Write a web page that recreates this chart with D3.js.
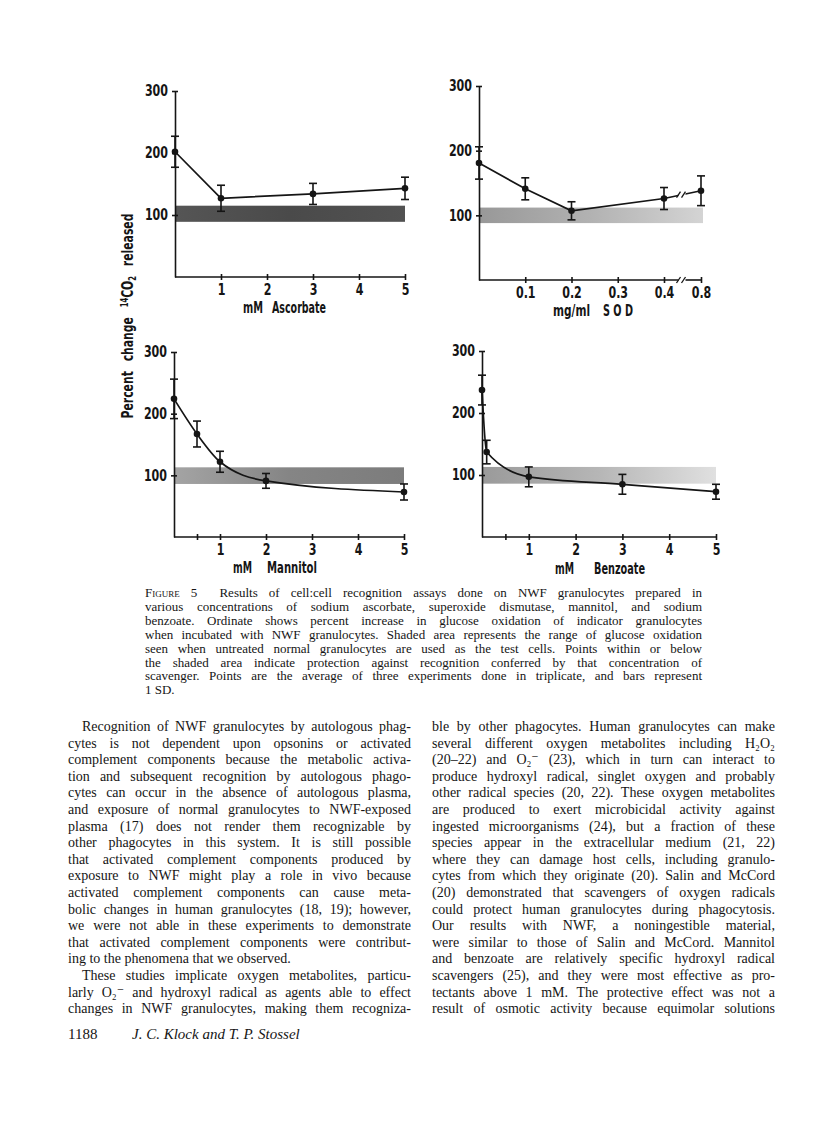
<!DOCTYPE html>
<html><head><meta charset="utf-8">
<script src="https://cdn.jsdelivr.net/npm/d3@7"></script>
<style>body{margin:0;background:#fff}</style>
</head><body><svg id="page" width="816" height="1127"></svg>
<script>
// ---------------- DATA ----------------
const yTicks = [100, 200, 300];

const ascConc  = [0, 1, 3, 5];
const ascValue = [202, 127, 134, 143];
const ascSD    = [25, 21, 17, 18];
const ascTicks = [1, 2, 3, 4, 5];

const sodConc  = [0, 0.1, 0.2, 0.4, 0.8];
const sodValue = [181, 141, 107, 126, 138];
const sodSD    = [25, 17, 14, 17, 23];
const sodTicks = [0.1, 0.2, 0.3, 0.4, 0.8];

const manConc  = [0, 0.5, 1, 2, 5];
const manValue = [224, 167, 122, 91, 73];
const manSD    = [32, 21, 17, 12, 13];
const manTicks = [0.5, 1, 2, 3, 4, 5];

const benConc  = [0, 0.1, 1, 3, 5];
const benValue = [237, 137, 97, 85, 73];
const benSD    = [24, 19, 16, 16, 12];
const benTicks = [0.5, 1, 2, 3, 4, 5];

const normalRange = [[89, 115], [88, 112], [86, 113], [86, 113]];

const xTitles = [["mM", "Ascorbate"], ["mg/ml", "S O D"], ["mM", "Mannitol"], ["mM", "Benzoate"]];
const yTitle = ["Percent change ", "14", "CO", "2", " released"];

const captionLines = [
  "Figure 5  Results of cell:cell recognition assays done on NWF granulocytes prepared in",
  "various concentrations of sodium ascorbate, superoxide dismutase, mannitol, and sodium",
  "benzoate. Ordinate shows percent increase in glucose oxidation of indicator granulocytes",
  "when incubated with NWF granulocytes. Shaded area represents the range of glucose oxidation",
  "seen when untreated normal granulocytes are used as the test cells. Points within or below",
  "the shaded area indicate protection against recognition conferred by that concentration of",
  "scavenger. Points are the average of three experiments done in triplicate, and bars represent",
  "1 SD."
];
const leftLines = [
  "Recognition of NWF granulocytes by autologous phag-",
  "cytes is not dependent upon opsonins or activated",
  "complement components because the metabolic activa-",
  "tion and subsequent recognition by autologous phago-",
  "cytes can occur in the absence of autologous plasma,",
  "and exposure of normal granulocytes to NWF-exposed",
  "plasma (17) does not render them recognizable by",
  "other phagocytes in this system. It is still possible",
  "that activated complement components produced by",
  "exposure to NWF might play a role in vivo because",
  "activated complement components can cause meta-",
  "bolic changes in human granulocytes (18, 19); however,",
  "we were not able in these experiments to demonstrate",
  "that activated complement components were contribut-",
  "ing to the phenomena that we observed.",
  "These studies implicate oxygen metabolites, particu-",
  "larly O\u2082\u207B and hydroxyl radical as agents able to effect",
  "changes in NWF granulocytes, making them recogniza-"
];
const rightLines = [
  "ble by other phagocytes. Human granulocytes can make",
  "several different oxygen metabolites including H\u2082O\u2082",
  "(20\u201322) and O\u2082\u207B (23), which in turn can interact to",
  "produce hydroxyl radical, singlet oxygen and probably",
  "other radical species (20, 22). These oxygen metabolites",
  "are produced to exert microbicidal activity against",
  "ingested microorganisms (24), but a fraction of these",
  "species appear in the extracellular medium (21, 22)",
  "where they can damage host cells, including granulo-",
  "cytes from which they originate (20). Salin and McCord",
  "(20) demonstrated that scavengers of oxygen radicals",
  "could protect human granulocytes during phagocytosis.",
  "Our results with NWF, a noningestible material,",
  "were similar to those of Salin and McCord. Mannitol",
  "and benzoate are relatively specific hydroxyl radical",
  "scavengers (25), and they were most effective as pro-",
  "tectants above 1 mM. The protective effect was not a",
  "result of osmotic activity because equimolar solutions"
];
const pageNumber = "1188";
const authors = "J. C. Klock and T. P. Stossel";

// ---------------- LAYOUT ----------------
const svg = d3.select("#page");
svg.append("rect").attr("width", 816).attr("height", 1127).attr("fill", "#fff");
const defs = svg.append("defs");
const chartFont = "'Liberation Sans Narrow','Arial Narrow','DejaVu Sans Condensed','DejaVu Sans',sans-serif";
const serif = "'Liberation Serif','DejaVu Serif',serif";
const ink = "#151515";

const panels = [
  { conc: ascConc, value: ascValue, sd: ascSD, ticks: ascTicks, band: normalRange[0],
    xDomain: [0, 5], xRange: [175, 405], y0: 277, y300: 91, curve: d3.curveLinear,
    bandStops: ["#555", "#4a4a4a", "#525252"], titleX: [243, 272], titleW: [20, 54], titleY: 313 },
  { conc: sodConc, value: sodValue, sd: sodSD, ticks: sodTicks, band: normalRange[1],
    xDomain: [0, 0.4, 0.8], xRange: [479, 664, 701], y0: 280, y300: 86, curve: d3.curveLinear,
    bandStops: ["#989898", "#b2b2b2", "#d4d4d4"], brk: 0.6, bandEnd: 703,
    titleX: [553, 603], titleW: [37, 30], titleY: 316 },
  { conc: manConc, value: manValue, sd: manSD, ticks: manTicks, band: normalRange[2],
    xDomain: [0, 5], xRange: [174, 404], y0: 537, y300: 352, curve: d3.curveMonotoneX,
    bandStops: ["#a4a4a4", "#858585", "#7c7c7c"], titleX: [233, 267], titleW: [19, 50], titleY: 573 },
  { conc: benConc, value: benValue, sd: benSD, ticks: benTicks, band: normalRange[3],
    xDomain: [0, 5], xRange: [482, 716], y0: 537, y300: 351, curve: d3.curveMonotoneX,
    bandStops: ["#9a9a9a", "#b6b6b6", "#e0e0e0"], titleX: [555, 594], titleW: [19, 51], titleY: 574 }
];

function styleText(sel, size) {
  sel.attr("font-family", chartFont).attr("font-size", size || 15).attr("font-weight", "bold").attr("fill", ink);
}
function squeeze(sel, f) {
  sel.each(function () {
    const w = this.getComputedTextLength();
    if (w > 0) d3.select(this).attr("textLength", w * f).attr("lengthAdjust", "spacingAndGlyphs");
  });
}

panels.forEach((p, i) => {
  const x = d3.scaleLinear().domain(p.xDomain).range(p.xRange);
  const y = d3.scaleLinear().domain([0, 300]).range([p.y0, p.y300]);
  const g = svg.append("g");
  const xEnd = p.xDomain[p.xDomain.length - 1];

  // shaded normal range
  const grad = defs.append("linearGradient").attr("id", "band" + i).attr("x1", 0).attr("x2", 1);
  p.bandStops.forEach((c, k) => grad.append("stop").attr("offset", k / (p.bandStops.length - 1)).attr("stop-color", c));
  const bx1 = p.bandEnd || x(xEnd);
  g.append("rect").attr("x", x(0)).attr("width", bx1 - x(0))
    .attr("y", y(p.band[1])).attr("height", y(p.band[0]) - y(p.band[1]))
    .attr("fill", `url(#band${i})`);

  // x axis
  const xAxis = d3.axisBottom(x).tickValues(p.ticks).tickSizeInner(3).tickSizeOuter(0).tickPadding(4)
    .tickFormat(d => d === 0.5 ? "" : String(d));
  const gx = g.append("g").attr("transform", `translate(0,${p.y0})`).call(xAxis);
  gx.select(".domain").remove();
  gx.selectAll(".tick line").attr("y1", -3).attr("y2", 3).attr("stroke", ink).attr("stroke-width", 1.6);
  styleText(gx.selectAll(".tick text"));
  squeeze(gx.selectAll(".tick text"), 0.82);
  if (p.brk) {
    g.append("line").attr("x1", x(0)).attr("x2", x(p.brk) - 4).attr("y1", p.y0).attr("y2", p.y0)
      .attr("stroke", ink).attr("stroke-width", 1.6);
    g.append("line").attr("x1", x(p.brk) + 3).attr("x2", x(xEnd)).attr("y1", p.y0).attr("y2", p.y0)
      .attr("stroke", ink).attr("stroke-width", 1.6);
    [-4, 1].forEach(o => g.append("line").attr("x1", x(p.brk) + o - 2).attr("x2", x(p.brk) + o + 2)
      .attr("y1", p.y0 + 3).attr("y2", p.y0 - 3).attr("stroke", ink).attr("stroke-width", 1.3));
  } else {
    g.append("line").attr("x1", x(0)).attr("x2", x(xEnd)).attr("y1", p.y0).attr("y2", p.y0)
      .attr("stroke", ink).attr("stroke-width", 1.6);
  }

  // y axis
  const yAxis = d3.axisLeft(y).tickValues(yTicks).tickSizeInner(3).tickSizeOuter(0).tickPadding(4);
  const gy = g.append("g").attr("transform", `translate(${x(0)},0)`).call(yAxis);
  gy.select(".domain").attr("stroke", ink).attr("stroke-width", 1.6);
  gy.selectAll(".tick line").attr("x1", 3).attr("x2", -3).attr("stroke", ink).attr("stroke-width", 1.6);
  styleText(gy.selectAll(".tick text"));
  squeeze(gy.selectAll(".tick text"), 0.82);

  // data line
  const pts = p.conc.map((c, k) => [c, p.value[k]]);
  const line = d3.line().x(d => x(d[0])).y(d => y(d[1])).curve(p.curve);
  g.append("path").attr("d", line(pts)).attr("fill", "none").attr("stroke", ink).attr("stroke-width", 1.7);
  if (p.brk) {
    const n = pts.length;
    const yb = y(d3.scaleLinear().domain([pts[n - 2][0], pts[n - 1][0]]).range([pts[n - 2][1], pts[n - 1][1]])(p.brk));
    g.append("rect").attr("x", x(p.brk) - 4).attr("width", 7).attr("y", yb - 6).attr("height", 12).attr("fill", "#fff");
    [-4, 1].forEach(o => g.append("line").attr("x1", x(p.brk) + o - 2).attr("x2", x(p.brk) + o + 2)
      .attr("y1", yb + 3).attr("y2", yb - 3).attr("stroke", ink).attr("stroke-width", 1.3));
  }

  // error bars
  const eb = g.append("g").attr("stroke", ink).attr("stroke-width", 1.6);
  pts.forEach((d, k) => {
    const cx = x(d[0]), lo = y(d[1] - p.sd[k]), hi = y(d[1] + p.sd[k]);
    eb.append("line").attr("x1", cx).attr("x2", cx).attr("y1", lo).attr("y2", hi);
    eb.append("line").attr("x1", cx - 4).attr("x2", cx + 4).attr("y1", lo).attr("y2", lo);
    eb.append("line").attr("x1", cx - 4).attr("x2", cx + 4).attr("y1", hi).attr("y2", hi);
  });
  g.selectAll("circle.pt").data(pts).join("circle").attr("class", "pt")
    .attr("cx", d => x(d[0])).attr("cy", d => y(d[1])).attr("r", 3.3).attr("fill", ink);

  // x title
  xTitles[i].forEach((t, k) => {
    const tt = g.append("text").attr("x", p.titleX[k]).attr("y", p.titleY).text(t);
    styleText(tt, 16);
    tt.attr("textLength", p.titleW[k]).attr("lengthAdjust", "spacingAndGlyphs");
  });
});

// y title
const yt = svg.append("text").attr("transform", "translate(133,316) rotate(-90)")
  .attr("text-anchor", "middle").attr("word-spacing", 8);
styleText(yt, 16);
yt.append("tspan").text(yTitle[0]);
yt.append("tspan").attr("font-size", 10).attr("dy", -5).text(yTitle[1]);
yt.append("tspan").attr("dy", 5).text(yTitle[2]);
yt.append("tspan").attr("font-size", 10).attr("dy", 3).text(yTitle[3]);
yt.append("tspan").attr("dy", -3).text(yTitle[4]);
yt.attr("textLength", 205).attr("lengthAdjust", "spacingAndGlyphs");

// ---------------- TEXT BLOCKS ----------------
function block(lines, o) {
  lines.forEach((s, i) => {
    const ind = (o.indent || []).includes(i) ? o.indentSize : 0;
    const t = svg.append("text").attr("x", o.x + ind).attr("y", o.y + i * o.dy)
      .attr("font-family", serif).attr("font-size", o.size).attr("fill", ink)
      .style("white-space", "pre");
    if (o.smallCapsFirst && i === 0) {
      const m = s.match(/^(\S+)(.*)$/);
      t.append("tspan").style("font-variant", "small-caps").text(m[1]);
      t.append("tspan").text(m[2]);
    } else t.text(s);
    if (!(o.last || []).includes(i)) {
      const w = t.node().getComputedTextLength();
      const sp = (s.match(/ /g) || []).length;
      if (sp) t.attr("word-spacing", (o.width - ind - w) / sp);
    }
  });
}
block(captionLines, { x: 145, y: 597, dy: 13.9, size: 13, width: 557, last: [7], smallCapsFirst: true });
block(leftLines, { x: 68, y: 731, dy: 16.6, size: 14, width: 343, indent: [0, 15], indentSize: 14, last: [14] });
block(rightLines, { x: 432, y: 731, dy: 16.6, size: 14, width: 343 });

svg.append("text").attr("x", 68).attr("y", 1039).attr("font-family", serif).attr("font-size", 15)
  .attr("fill", ink).text(pageNumber);
svg.append("text").attr("x", 132).attr("y", 1039).attr("font-family", serif).attr("font-size", 15)
  .attr("font-style", "italic").attr("fill", ink).text(authors);
</script></body></html>
